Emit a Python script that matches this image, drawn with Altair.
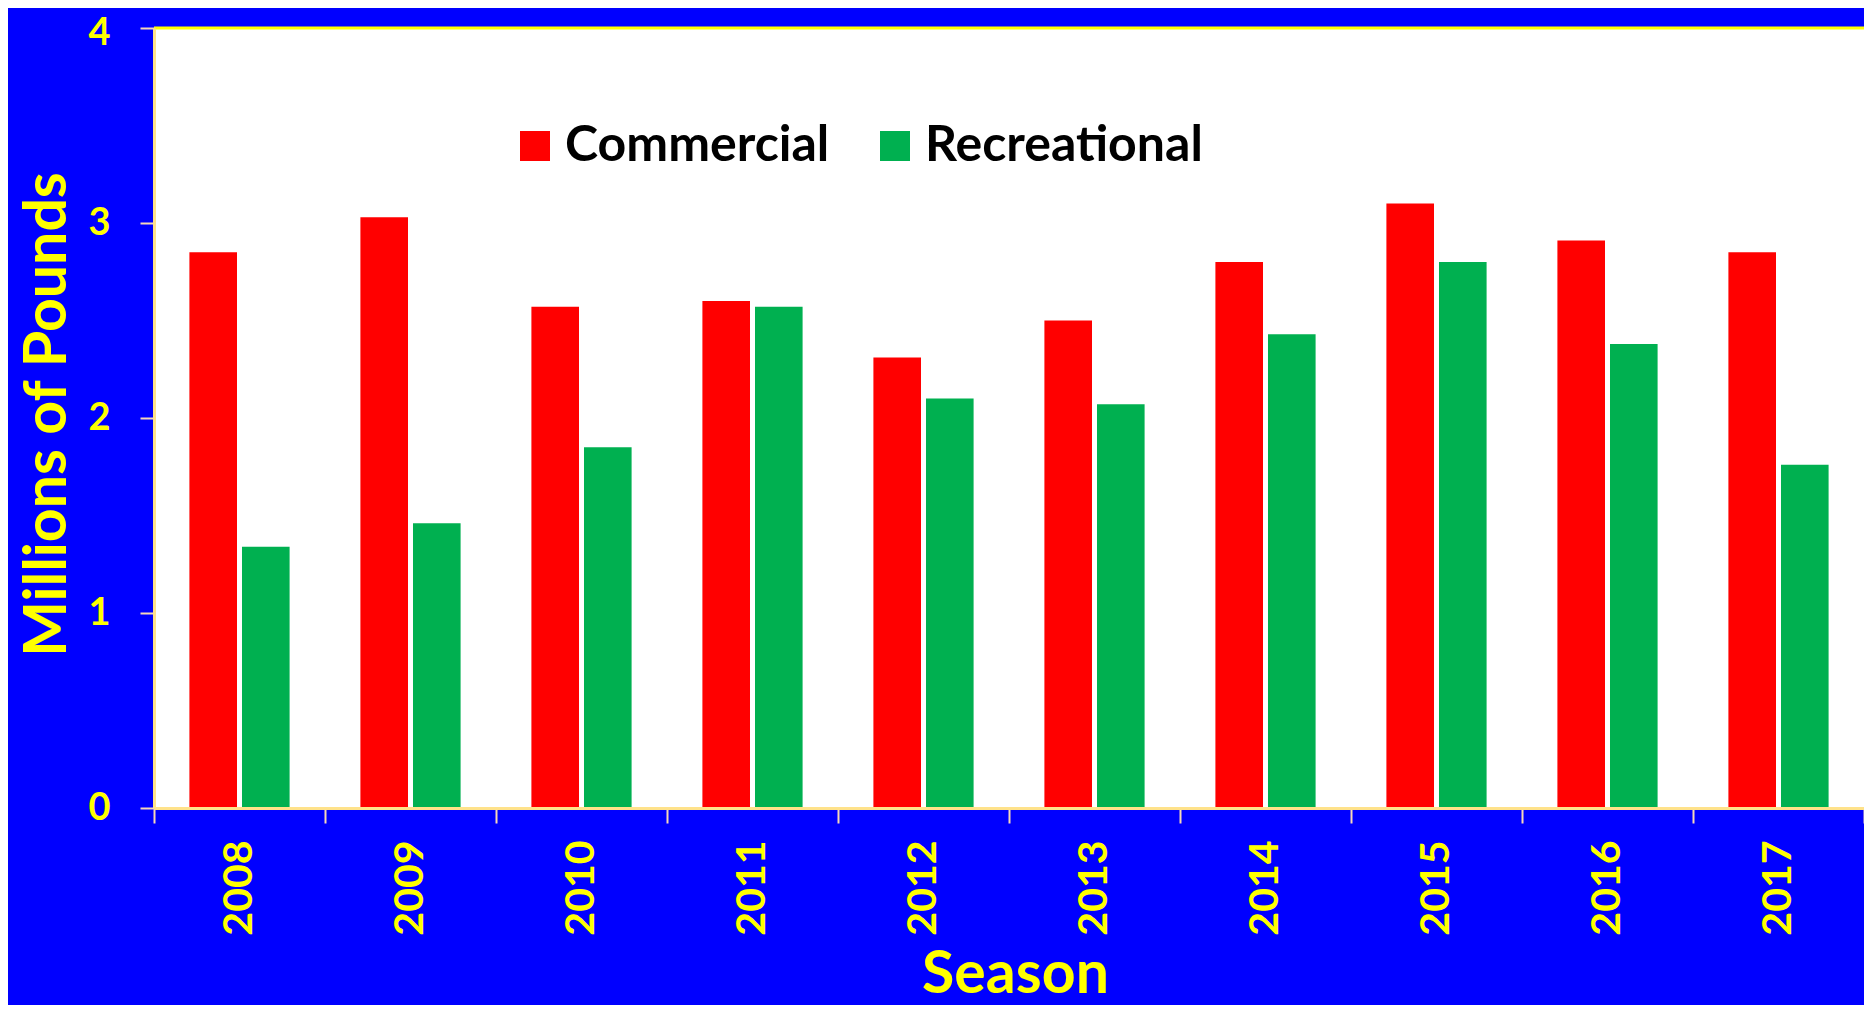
import altair as alt
import pandas as pd

seasons = ["2008", "2009", "2010", "2011", "2012", "2013", "2014", "2015", "2016", "2017"]
commercial = [2.85, 3.03, 2.57, 2.60, 2.31, 2.50, 2.80, 3.10, 2.91, 2.85]
recreational = [1.34, 1.46, 1.85, 2.57, 2.10, 2.07, 2.43, 2.80, 2.38, 1.76]
types = ["Commercial", "Recreational"]
colors = ["#FF0000", "#00B050"]
y_ticks = [0, 1, 2, 3, 4]

rows = []
for s, c, r in zip(seasons, commercial, recreational):
    rows.append({"Season": s, "Type": "Commercial", "Value": c})
    rows.append({"Season": s, "Type": "Recreational", "Value": r})
df = pd.DataFrame(rows)

W, H = 1710, 780
FONT = "Lato"
YEL = "#FFFF00"

bars = alt.Chart(df).mark_bar().encode(
    x=alt.X(
        "Season:N",
        sort=seasons,
        scale=alt.Scale(paddingInner=0, paddingOuter=0),
        axis=alt.Axis(
            title="Season",
            titleFont=FONT, titleFontSize=59, titleFontWeight="bold", titleColor=YEL,
            titleX=861, titleY=196, titleBaseline="bottom", titleAlign="center",
            labelAngle=270, labelAlign="right", labelBaseline="middle",
            labelFont=FONT, labelFontSize=41, labelFontWeight="bold", labelColor=YEL,
            labelPadding=17, tickSize=15, tickBand="extent", tickColor="#F6D8B8", tickWidth=2,
            domainColor="#FFE28A", domainWidth=3, grid=False, zindex=1,
        ),
    ),
    xOffset=alt.XOffset("Type:N", sort=types, scale=alt.Scale(paddingInner=0.095, paddingOuter=0.673)),
    y=alt.Y(
        "Value:Q",
        scale=alt.Scale(domain=[0, 4], nice=False, zero=True),
        axis=alt.Axis(
            title="Millions of Pounds",
            titleFont=FONT, titleFontSize=59, titleFontWeight="bold", titleColor=YEL,
            titleAngle=270, titleX=-107, titleY=386, titleAlign="center", titleBaseline="middle",
            values=y_ticks, format="d",
            labelFont=FONT, labelFontSize=38, labelFontWeight="bold", labelColor=YEL,
            labelOffset=alt.ExprRef(expr="datum.value == 4 ? 5 : 0"),
            labelPadding=30, tickSize=14, tickColor="#F6D8B8", tickWidth=2,
            domainColor="#FFE28A", domainWidth=3, grid=False, zindex=1,
        ),
    ),
    color=alt.Color(
        "Type:N",
        sort=types,
        scale=alt.Scale(domain=types, range=colors),
        legend=alt.Legend(
            title=None, orient="none", legendX=356, legendY=93, direction="horizontal",
            symbolType="square", symbolSize=900, symbolStrokeWidth=0,
            labelFont=FONT, labelFontSize=50, labelFontWeight="bold", labelColor="black",
            labelOffset=5, labelLimit=0, columnPadding=40, padding=0,
        ),
    ),
)

top_rule = alt.Chart(pd.DataFrame({"k": [0]})).mark_rule(color=YEL, strokeWidth=3).encode(
    x=alt.value(0), x2=alt.value(W), y=alt.value(0)
)

chart = (
    alt.layer(bars, top_rule)
    .properties(
        width=W, height=H,
        background="#0000FF",
        autosize=alt.AutoSizeParams(type="none"),
        padding={"left": 146, "top": 20, "right": 0, "bottom": 197},
    )
    .configure_view(fill="white", stroke="transparent")
)

chart.save("out.html", embed_options={"renderer": "svg", "actions": False})
